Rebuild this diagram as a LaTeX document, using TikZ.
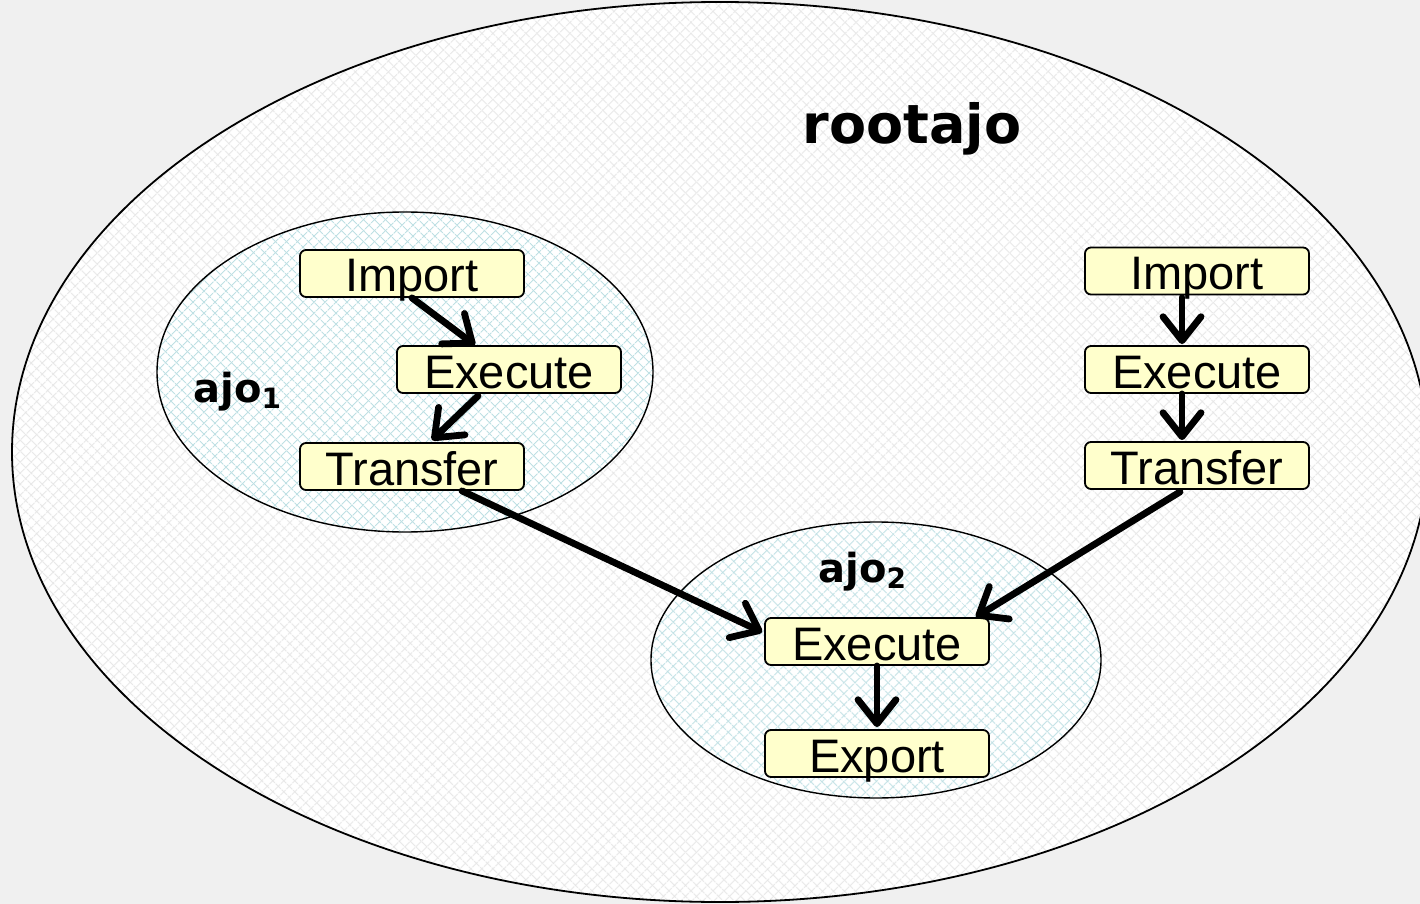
\documentclass[tikz,border=0pt]{standalone}
\usepackage{fontspec}
\setmainfont{Liberation Sans}
\newfontfamily\labelfont{DejaVu Sans}
\usetikzlibrary{arrows.meta,patterns.meta,calc}

\definecolor{bggray}{HTML}{F0F0F0}
\definecolor{hatchgray}{HTML}{E6E6E6}
\definecolor{hatchblue}{HTML}{BFE0E4}
\definecolor{boxfill}{HTML}{FFFFCC}

\tikzset{
  x=0.5pt, y=-0.5pt,
  hatched/.style={fill=white,
    postaction={pattern={Lines[angle=45,distance=4pt,line width=0.5pt]},pattern color=#1},
    postaction={pattern={Lines[angle=-45,distance=4pt,line width=0.5pt]},pattern color=#1}},
  taskbox/.style={draw=black, line width=0.9pt, fill=boxfill, rounded corners=3pt,
    minimum width=112pt, inner sep=0pt, text height=21pt, text depth=2.5pt,
    font=\fontsize{23.5pt}{28pt}\selectfont},
  flow/.style={line width=3.4pt, line cap=round,
    -{Straight Barb[length=12pt,width=19pt,round]}},
  ajolabel/.style={font=\labelfont\bfseries\fontsize{20pt}{24pt}\selectfont, inner sep=0pt, anchor=base west}
}

\begin{document}
\begin{tikzpicture}
  % page background
  \fill[bggray] (0,0) rectangle (1420,904);
  \useasboundingbox (0,0) rectangle (1420,904);

  % outer container: hatched fill, then the outline on top
  \path[hatched=hatchgray] (720,452) ellipse [x radius=354pt, y radius=225pt];
  \draw[line width=0.9pt] (720,452) ellipse [x radius=354pt, y radius=225pt];

  % inner containers
  \path[hatched=hatchblue] (405,372) ellipse [x radius=124pt, y radius=80pt];
  \draw[line width=0.7pt] (405,372) ellipse [x radius=124pt, y radius=80pt];
  \path[hatched=hatchblue] (876,660) ellipse [x radius=112.5pt, y radius=69pt];
  \draw[line width=0.7pt] (876,660) ellipse [x radius=112.5pt, y radius=69pt];

  % labels
  \node[font=\labelfont\bfseries\fontsize{27pt}{32pt}\selectfont, inner sep=0pt, anchor=base]
    (root) at (912,144) {rootajo};
  \node[ajolabel] (lab1) at (193,402) {ajo\textsubscript{1}};
  \node[ajolabel] (lab2) at (818,582) {ajo\textsubscript{2}};

  % tasks
  \node[taskbox] (imp1) at (412,273.5) {Import};
  \node[taskbox] (exe1) at (509,369.5) {Execute};
  \node[taskbox] (tra1) at (412,466.5) {Transfer};

  \node[taskbox] (imp2) at (1197,271) {Import};
  \node[taskbox] (exe2) at (1197,369.5) {Execute};
  \node[taskbox] (tra2) at (1197,465.5) {Transfer};

  \node[taskbox] (exe3) at (877,641.5) {Execute};
  \node[taskbox] (exp3) at (877,753.5) {Export};

  % flows
  \draw[flow] (imp1.south) -- ($(exe1.north)+(-34,0)$);
  \draw[flow] ($(exe1.south)+(-31,2)$) -- ($(tra1.north)+(20,-2)$);
  \draw[flow] ($(tra1.south)+(50,0)$) -- ($(exe3.north west)+(-2,15)$);

  \draw[flow] ($(imp2.south)+(-15,2)$) -- ($(exe2.north)+(-15,-1)$);
  \draw[flow] ($(exe2.south)+(-15,0)$) -- ($(tra2.north)+(-15,-1)$);
  \draw[flow] ($(tra2.south)+(-17,2)$) -- ($(exe3.north east)+(-14,0)$);

  \draw[flow] (exe3.south) -- ($(exp3.north)+(0,-2)$);
\end{tikzpicture}
\end{document}
